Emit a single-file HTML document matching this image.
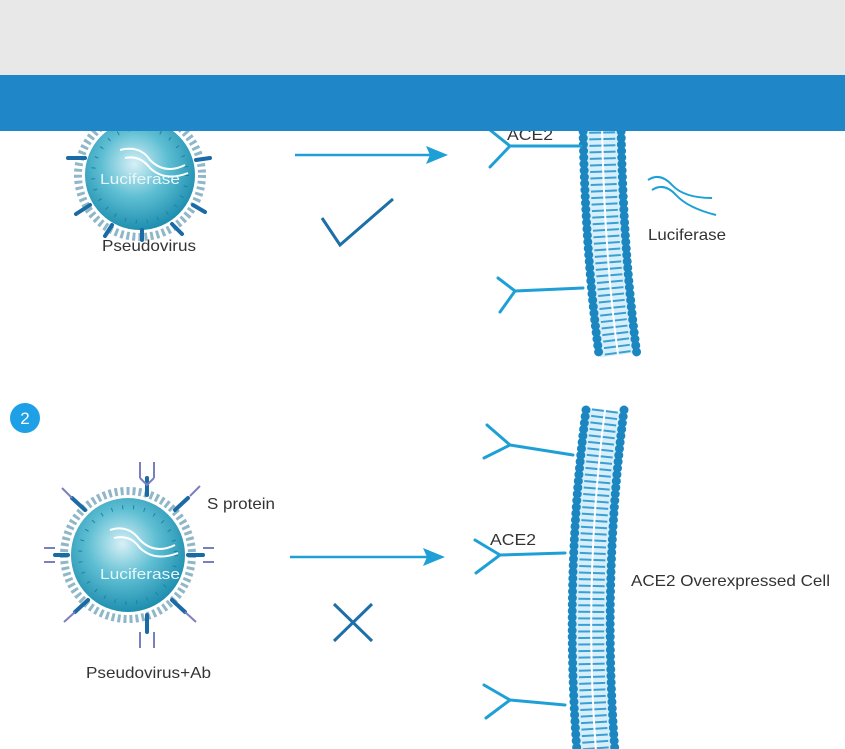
<!DOCTYPE html>
<html><head><meta charset="utf-8"><style>
html,body{margin:0;padding:0;background:#fff;}
body{width:845px;height:749px;overflow:hidden;position:relative;font-family:"Liberation Sans",Arial,sans-serif;}
</style></head><body>
<svg width="845" height="749" viewBox="0 0 845 749" xmlns="http://www.w3.org/2000/svg" style="position:absolute;left:0;top:0">
<defs>
<radialGradient id="vg" cx="0.45" cy="0.4" r="0.6">
<stop offset="0" stop-color="#d8f0f6"/><stop offset="0.5" stop-color="#5fbfd3"/><stop offset="1" stop-color="#1f8fb0"/>
</radialGradient>
</defs>

<!-- membrane 1 -->
<g fill="none">
<path d="M602 125 Q604 250 618 355" stroke="#d7effa" stroke-width="36"/>
<path d="M602 125 Q604 250 618 355" stroke="#3a9fd2" stroke-width="26" stroke-dasharray="2 4.5"/>
<path d="M602 125 Q604 250 618 355" stroke="#fff" stroke-width="2"/>
<path d="M583 125 Q585 250 599 355" stroke="#1b86c0" stroke-width="9" stroke-dasharray="0 6.5" stroke-linecap="round"/>
<path d="M621 125 Q623 250 637 355" stroke="#1b86c0" stroke-width="9" stroke-dasharray="0 6.5" stroke-linecap="round"/>
</g>
<!-- membrane 2 -->
<g fill="none">
<path d="M605 410 Q583 580 596 752" stroke="#d7effa" stroke-width="36"/>
<path d="M605 410 Q583 580 596 752" stroke="#3a9fd2" stroke-width="26" stroke-dasharray="2 4.5"/>
<path d="M605 410 Q583 580 596 752" stroke="#fff" stroke-width="2"/>
<path d="M586 410 Q564 580 577 752" stroke="#1b86c0" stroke-width="9" stroke-dasharray="0 6.5" stroke-linecap="round"/>
<path d="M624 410 Q602 580 615 752" stroke="#1b86c0" stroke-width="9" stroke-dasharray="0 6.5" stroke-linecap="round"/>
</g>

<!-- receptors -->
<g stroke="#1ea0d6" stroke-width="3" fill="none" stroke-linecap="round">
<path d="M581 146 L510 146 M510 146 L490 130 M510 146 L490 167"/>
<path d="M583 288 L515 291 M515 291 L498 278 M515 291 L500 312"/>
<path d="M573 455 L510 445 M510 445 L487 425 M510 445 L484 458"/>
<path d="M565 553 L500 555 M500 555 L475 540 M500 555 L476 573"/>
<path d="M565 705 L510 700 M510 700 L484 685 M510 700 L486 718"/>
</g>

<!-- arrows -->
<g stroke="#1ea0d6" stroke-width="2.5" fill="#1ea0d6">
<line x1="295" y1="155" x2="430" y2="155"/>
<path d="M448 155 L426 146 L430 155 L426 164 Z" stroke="none"/>
<line x1="290" y1="557" x2="428" y2="557"/>
<path d="M445 557 L423 548 L427 557 L423 566 Z" stroke="none"/>
</g>
<path d="M322 218 L340 245 L393 199" stroke="#1d6fa8" stroke-width="3" fill="none"/>
<path d="M334 604 L372 641 M372 604 L334 641" stroke="#1d6fa8" stroke-width="3" fill="none"/>

<!-- luciferase squiggle -->
<g stroke="#1ea0d6" stroke-width="2" fill="none">
<path d="M648 180 Q660 172 672 185 Q684 198 712 198"/>
<path d="M652 190 Q664 182 676 195 Q688 208 716 215"/>
</g>

<!-- virus 1 -->
<g>
<circle cx="140" cy="175" r="62" fill="none" stroke="#8fb7c7" stroke-width="8" stroke-dasharray="3 3"/>
<circle cx="140" cy="175" r="55" fill="url(#vg)"/>
<circle cx="140" cy="175" r="47" fill="none" stroke="#1f80aa" stroke-width="4" stroke-dasharray="1 10"/>
<g stroke="#1a6aa5" stroke-width="4" stroke-linecap="round">
<line x1="85" y1="158" x2="68" y2="158"/><line x1="90" y1="205" x2="76" y2="214"/>
<line x1="112" y1="225" x2="105" y2="236"/><line x1="142" y1="230" x2="142" y2="240"/>
<line x1="172" y1="224" x2="182" y2="234"/><line x1="193" y1="205" x2="205" y2="212"/>
<line x1="196" y1="160" x2="210" y2="158"/>
</g>
<path d="M120 150 Q140 145 150 160 Q165 175 185 165 M125 158 Q140 155 150 168 Q165 182 188 173" stroke="#fff" stroke-width="2" fill="none"/>
<text x="100" y="184" font-size="15" fill="#e8f6fb" textLength="80" lengthAdjust="spacingAndGlyphs">Luciferase</text>
</g>

<!-- virus 2 -->
<g>
<circle cx="128" cy="555" r="64" fill="none" stroke="#8fb7c7" stroke-width="8" stroke-dasharray="3 3"/>
<circle cx="128" cy="555" r="57" fill="url(#vg)"/>
<circle cx="128" cy="555" r="48" fill="none" stroke="#1f80aa" stroke-width="4" stroke-dasharray="1 10"/>
<g stroke="#1a6aa5" stroke-width="4" stroke-linecap="round">
<line x1="147" y1="495" x2="147" y2="478"/><line x1="68" y1="555" x2="55" y2="555"/>
<line x1="188" y1="555" x2="203" y2="555"/><line x1="147" y1="615" x2="147" y2="632"/>
<line x1="85" y1="510" x2="72" y2="498"/><line x1="175" y1="510" x2="188" y2="498"/>
<line x1="88" y1="600" x2="75" y2="612"/><line x1="172" y1="600" x2="185" y2="612"/>
</g>
<g stroke="#7b7fbf" stroke-width="2" fill="none">
<path d="M140 478 L140 462 M154 478 L154 462 M140 478 L147 485 L154 478"/>
<path d="M55 548 L44 548 M55 562 L44 562"/>
<path d="M203 548 L214 548 M203 562 L214 562"/>
<path d="M140 632 L140 648 M154 632 L154 648"/>
<path d="M72 498 L62 488 M190 496 L200 486 M75 612 L64 622 M185 612 L196 622"/>
</g>
<path d="M110 530 Q128 524 140 540 Q155 555 175 545 M114 538 Q130 534 140 548 Q155 562 178 553" stroke="#fff" stroke-width="2" fill="none"/>
<text x="100" y="579" font-size="15" fill="#e8f6fb" textLength="80" lengthAdjust="spacingAndGlyphs">Luciferase</text>
</g>

<!-- badge -->
<circle cx="25" cy="418" r="15" fill="#1ea0e6"/>
<text x="25" y="424" font-size="17" fill="#fff" text-anchor="middle">2</text>

<!-- labels -->
<g font-size="16" fill="#333">
<text x="102" y="251" textLength="94" lengthAdjust="spacingAndGlyphs">Pseudovirus</text>
<text x="648" y="240" textLength="78" lengthAdjust="spacingAndGlyphs">Luciferase</text>
<text x="207" y="509" textLength="68" lengthAdjust="spacingAndGlyphs">S protein</text>
<text x="490" y="545" textLength="46" lengthAdjust="spacingAndGlyphs">ACE2</text>
<text x="631" y="586" textLength="199" lengthAdjust="spacingAndGlyphs">ACE2 Overexpressed Cell</text>
<text x="86" y="678" textLength="125" lengthAdjust="spacingAndGlyphs">Pseudovirus+Ab</text>
<text x="507" y="140" textLength="46" lengthAdjust="spacingAndGlyphs">ACE2</text>
</g>

<!-- header bars -->
<rect x="0" y="0" width="845" height="75" fill="#e8e8e8"/>
<rect x="0" y="75" width="845" height="56" fill="#1f86c8"/>
</svg>
</body></html>
